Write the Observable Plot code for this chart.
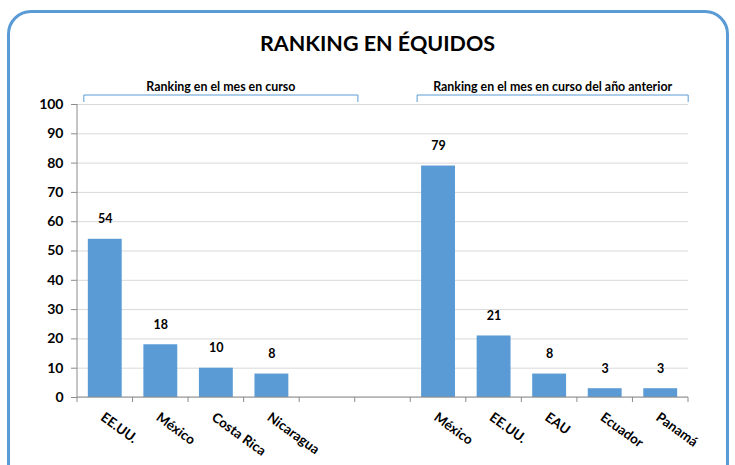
<!DOCTYPE html>
<html>
<head>
<meta charset="utf-8">
<script src="https://cdn.jsdelivr.net/npm/d3@7"></script>
<script src="https://cdn.jsdelivr.net/npm/@observablehq/plot@0.6"></script>
<style>
  html, body { margin: 0; padding: 0; background: #fff; overflow: hidden; }
  body { width: 735px; height: 465px; position: relative; font-family: Lato, "Open Sans", sans-serif; }
  #frame { position: absolute; left: 7px; top: 10px; width: 722px; height: 480px;
           border: 3px solid #5b9bd5; border-radius: 24px; box-sizing: border-box; }
  #title { position: absolute; left: 20px; width: 715px; top: 30px; text-align: center;
           font-weight: bold; font-size: 21.5px; color: #000; letter-spacing: 0px; }
  #chart { position: absolute; left: 0; top: 0; }
</style>
</head>
<body>
<div id="frame"></div>
<div id="title">RANKING EN ÉQUIDOS</div>
<div id="chart"></div>
<script>
// ---- data ----
const titleText = "RANKING EN ÉQUIDOS";
const groupLabels = ["Ranking en el mes en curso", "Ranking en el mes en curso del año anterior"];
const categoriesCurrent = ["EE.UU.", "México", "Costa Rica", "Nicaragua", ""];
const valuesCurrent = [54, 18, 10, 8, null];
const categoriesPrevious = ["México", "EE.UU.", "EAU", "Ecuador", "Panamá"];
const valuesPrevious = [79, 21, 8, 3, 3];
const yTicks = [0, 10, 20, 30, 40, 50, 60, 70, 80, 90, 100];

// ---- build rows ----
const rowsCurrent = categoriesCurrent.map((c, i) => ({key: "c" + i, label: c, value: valuesCurrent[i], group: 0}));
const rowsPrevious = categoriesPrevious.map((c, i) => ({key: "p" + i, label: c, value: valuesPrevious[i], group: 1}));
const rows = [...rowsCurrent, ...rowsPrevious];
const domain = [...rowsCurrent.map(d => d.key), "sep", ...rowsPrevious.map(d => d.key)];
const barRows = rows.filter(d => d.value != null);

const blue = "#5b9bd5";
const font = "Lato, 'Open Sans', sans-serif";

const plot = Plot.plot({
  width: 735,
  height: 465,
  marginLeft: 77,
  marginRight: 47,
  marginTop: 104,
  marginBottom: 68,
  style: {fontFamily: font, background: "transparent", overflow: "visible"},
  x: {domain, paddingInner: 0.39, paddingOuter: 0.195, round: false, axis: null},
  y: {domain: [0, 100], axis: null},
  marks: [
    Plot.gridY(yTicks, {stroke: "#d9d9d9", strokeOpacity: 1, strokeWidth: 1}),
    Plot.axisY(yTicks, {tickSize: 6, tickPadding: 8, stroke: "#8c8c8c", fontWeight: "bold", fontSize: 14, fill: "#000", label: null}),
    Plot.barY(barRows, {x: "key", y: "value", fill: blue}),
    Plot.text(barRows, {x: "key", y: "value", text: d => String(d.value), dy: -20, fontWeight: "bold", fontSize: 12.5, fill: "#000"}),
    Plot.text(rows.filter(d => d.label), {x: "key", y: () => 0, text: "label", rotate: 36, textAnchor: "start", lineAnchor: "top", dy: 14, dx: 0, fontWeight: "bold", fontSize: 13.5, fill: "#000"})
  ]
});
document.getElementById("chart").appendChild(plot);

// ---- axis lines, boundary ticks and group brackets using the plot's scales ----
const xs = plot.scale("x"), ys = plot.scale("y");
const svg = d3.select(plot);
const y0 = ys.apply(0), y100 = ys.apply(100);
const step = xs.step, bw = xs.bandwidth;
const left = xs.apply(domain[0]) - step * xs.paddingOuter;
const right = xs.apply(domain[domain.length - 1]) + bw + step * xs.paddingOuter;
const g = svg.append("g").attr("fill", "none");
g.append("line").attr("x1", left).attr("x2", left).attr("y1", y100).attr("y2", y0).attr("stroke", "#8c8c8c");
g.append("line").attr("x1", left).attr("x2", right).attr("y1", y0).attr("y2", y0).attr("stroke", "#8c8c8c");
domain.forEach((k, i) => {
  const bx = xs.apply(k) - step * xs.paddingOuter;
  g.append("line").attr("x1", bx).attr("x2", bx).attr("y1", y0).attr("y2", y0 + 5).attr("stroke", "#8c8c8c");
});
g.append("line").attr("x1", right).attr("x2", right).attr("y1", y0).attr("y2", y0 + 5).attr("stroke", "#8c8c8c");

[rowsCurrent, rowsPrevious].forEach((grp, gi) => {
  const x1 = xs.apply(grp[0].key) - 4;
  const x2 = xs.apply(grp[grp.length - 1].key) + bw + (gi === 0 ? 14 : 11);
  const yb = y100 - 9, yl = y100 - 2;
  g.append("path").attr("d", `M${x1},${yl}V${yb}H${x2}V${yl}`).attr("stroke", blue).attr("stroke-width", 1);
  svg.append("text").attr("x", (x1 + x2) / 2).attr("y", yb - 4)
    .attr("text-anchor", "middle").attr("font-family", font).attr("font-weight", "bold").attr("font-size", 12.4)
    .text(groupLabels[gi]);
});
</script>
</body>
</html>
